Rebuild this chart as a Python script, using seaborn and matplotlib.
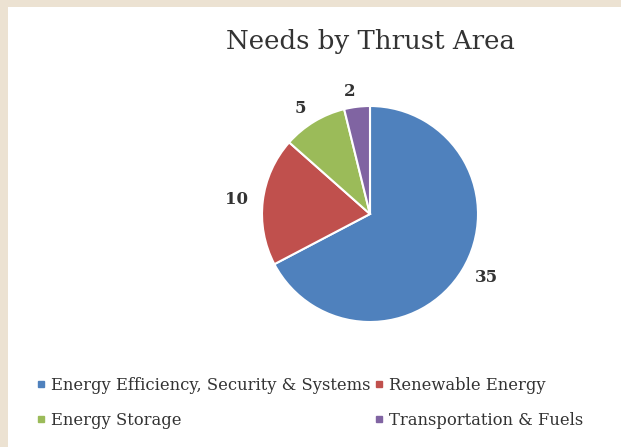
import matplotlib
matplotlib.use("Agg")
import matplotlib.pyplot as plt
import seaborn as sns
from matplotlib.lines import Line2D
from matplotlib.patches import Rectangle

categories = ["Energy Efficiency, Security & Systems", "Renewable Energy",
              "Energy Storage", "Transportation & Fuels"]
values = [35, 10, 5, 2]
colors = ["#4F81BD", "#C0504D", "#9BBB59", "#8064A2"]
title = "Needs by Thrust Area"

sns.set_style("white")
plt.rcParams['font.family'] = ['DejaVu Serif']
txt = "#333333"

W, H = 621, 447
fig = plt.figure(figsize=(W / 100, H / 100), dpi=100, facecolor="#ECE2D2")
fig.patches.append(Rectangle((8 / W, 0), 1, 1 - 7 / H, transform=fig.transFigure,
                             facecolor="white", edgecolor="none", zorder=-10))

cx, cy, R = 370, 214, 108
ax = fig.add_axes([(cx - R) / W, (H - cy - R) / H, 2 * R / W, 2 * R / H])
ax.set_facecolor("none")
wedges, texts = ax.pie(values, labels=[str(v) for v in values], colors=colors,
                       startangle=90, counterclock=False, labeldistance=1.14,
                       wedgeprops=dict(edgecolor="white", linewidth=1.5),
                       textprops=dict(fontsize=12, color=txt, fontweight="bold"))
ax.set_xlim(-1, 1)
ax.set_ylim(-1, 1)
ax.set_aspect("equal")

fig.text(cx / W, 1 - 42 / H, title, ha="center", va="center", fontsize=18.7,
         color=txt)

order = [0, 2, 1, 3]
handles = [Line2D([], [], marker="s", linestyle="none", markersize=4,
                  color=colors[i]) for i in order]
labels = [categories[i] for i in order]
leg = fig.legend(handles, labels, ncol=2, loc="upper left",
                 bbox_to_anchor=(21 / W, 1 - 362 / H), frameon=False,
                 fontsize=11.75, handlelength=0.6, handletextpad=0.35,
                 columnspacing=0.2, labelspacing=1.1, labelcolor=txt)

fig.savefig("out.png", dpi=100, facecolor=fig.get_facecolor())
